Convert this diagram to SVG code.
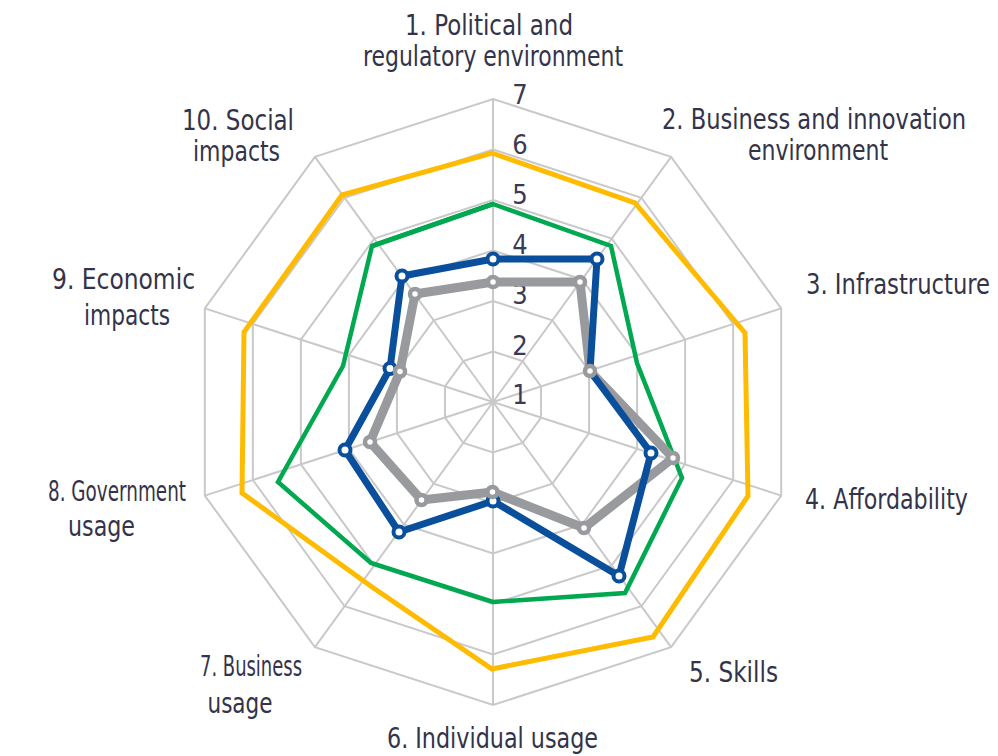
<svg xmlns="http://www.w3.org/2000/svg" width="998" height="756" viewBox="0 0 998 756">
<style>
.grid{fill:none;stroke:#c9c9c9;stroke-width:2}
.lbl{font-family:"Liberation Sans Narrow","DejaVu Sans Condensed","Liberation Sans",Arial,sans-serif;font-size:28px;fill:#33334a}
.num{font-family:"Liberation Sans Narrow","DejaVu Sans Condensed","Liberation Sans",Arial,sans-serif;font-size:27px;fill:#3a3a55}
.yel{fill:none;stroke:#ffbb00;stroke-width:5;stroke-linejoin:miter}
.grn{fill:none;stroke:#00a84f;stroke-width:4.5;stroke-linejoin:miter}
.gry{fill:none;stroke:#999a9d;stroke-width:9;stroke-linejoin:round}
.blu{fill:none;stroke:#0a4f9c;stroke-width:7;stroke-linejoin:round}
.bm{fill:#fff;stroke:#0a4f9c;stroke-width:4}
.gm{fill:#fff;stroke:#999a9d;stroke-width:4.5}
</style>
<rect width="998" height="756" fill="#fff"/>
<g id="grid">
<polygon class="grid" points="493,351.5 522.68,361.15 541.03,386.4 541.03,417.6 522.68,442.85 493,452.5 463.32,442.85 444.97,417.6 444.97,386.4 463.32,361.15"/>
<polygon class="grid" points="493,301 552.37,320.29 589.06,370.79 589.06,433.21 552.37,483.71 493,503 433.63,483.71 396.94,433.21 396.94,370.79 433.63,320.29"/>
<polygon class="grid" points="493,250.5 582.05,279.44 637.09,355.19 637.09,448.81 582.05,524.56 493,553.5 403.95,524.56 348.91,448.81 348.91,355.19 403.95,279.44"/>
<polygon class="grid" points="493,200 611.74,238.58 685.12,339.58 685.12,464.42 611.74,565.42 493,604 374.26,565.42 300.88,464.42 300.88,339.58 374.26,238.58"/>
<polygon class="grid" points="493,149.5 641.42,197.73 733.15,323.98 733.15,480.02 641.42,606.27 493,654.5 344.58,606.27 252.85,480.02 252.85,323.98 344.58,197.73"/>
<polygon class="grid" points="493,99 671.1,156.87 781.18,308.37 781.18,495.63 671.1,647.13 493,705 314.9,647.13 204.82,495.63 204.82,308.37 314.9,156.87"/>
<path class="grid" d="M493,402L493,99M493,402L671.1,156.87M493,402L781.18,308.37M493,402L781.18,495.63M493,402L671.1,647.13M493,402L493,705M493,402L314.9,647.13M493,402L204.82,495.63M493,402L204.82,308.37M493,402L314.9,156.87"/>
</g>
<g id="scale">
<text class="num" x="520" y="104" text-anchor="middle">7</text>
<text class="num" x="520" y="154" text-anchor="middle">6</text>
<text class="num" x="520" y="204" text-anchor="middle">5</text>
<text class="num" x="520" y="254" text-anchor="middle">4</text>
<text class="num" x="520" y="304" text-anchor="middle">3</text>
<text class="num" x="520" y="355" text-anchor="middle">2</text>
<text class="num" x="520" y="404" text-anchor="middle">1</text>
</g>
<g id="connectors">
<polygon id="series-yellow" class="yel" points="492,153 635,203 745,333 748,496 653,637 492,669 372,587 242,493 244,332 342,195"/>
<g id="series-green">
<polygon class="grn" points="493,204 611,246 637,363 682,478 625,593 493,602 371,563 278,482 343,366 372,246"/>
<line class="grn" x1="372" y1="246" x2="493" y2="204" stroke-width="7"/>
</g>
<polygon id="series-gray-line" class="gry" points="493,282 580,282 590,371 673,458 584,528 492.5,492 421.5,500 370,442 400,371.5 415,294"/>
<polygon id="series-blue-line" class="blu" points="493,259 597,259 590,371 651,453 619,576 493,501 399,532 345,450 390,368.5 402,276"/>
<g id="series-blue-markers">
<circle class="bm" cx="493" cy="259" r="5.5"/>
<circle class="bm" cx="597" cy="259" r="5.5"/>
<circle class="bm" cx="651" cy="453" r="5.5"/>
<circle class="bm" cx="619" cy="576" r="5.5"/>
<circle class="bm" cx="493" cy="501" r="5.5"/>
<circle class="bm" cx="399" cy="532" r="5.5"/>
<circle class="bm" cx="345" cy="450" r="5.5"/>
<circle class="bm" cx="390" cy="368.5" r="5.5"/>
<circle class="bm" cx="402" cy="276" r="5.5"/>
</g>
<g id="series-gray-markers">
<circle class="gm" cx="493" cy="282" r="5"/>
<circle class="gm" cx="580" cy="282" r="5"/>
<circle class="gm" cx="590" cy="371" r="5"/>
<circle class="gm" cx="673" cy="458" r="5"/>
<circle class="gm" cx="584" cy="528" r="5"/>
<circle class="gm" cx="492.5" cy="492" r="5"/>
<circle class="gm" cx="421.5" cy="500" r="5"/>
<circle class="gm" cx="370" cy="442" r="5"/>
<circle class="gm" cx="400" cy="371.5" r="5"/>
<circle class="gm" cx="415" cy="294" r="5"/>
</g>
</g>
<g id="axis1"><text class="lbl" x="489" y="35" text-anchor="middle" textLength="168" lengthAdjust="spacingAndGlyphs">1. Political and</text><text class="lbl" x="493" y="66" text-anchor="middle" textLength="260" lengthAdjust="spacingAndGlyphs">regulatory environment</text></g>
<g id="axis2"><text class="lbl" x="814" y="129" text-anchor="middle" textLength="304" lengthAdjust="spacingAndGlyphs">2. Business and innovation</text><text class="lbl" x="818" y="160" text-anchor="middle" textLength="140" lengthAdjust="spacingAndGlyphs">environment</text></g>
<g id="axis3"><text class="lbl" x="806" y="294" textLength="184" lengthAdjust="spacingAndGlyphs">3. Infrastructure</text></g>
<g id="axis4"><text class="lbl" x="805" y="509" textLength="163" lengthAdjust="spacingAndGlyphs">4. Affordability</text></g>
<g id="axis5"><text class="lbl" x="689" y="682" textLength="89" lengthAdjust="spacingAndGlyphs">5. Skills</text></g>
<g id="axis6"><text class="lbl" x="387" y="748" textLength="211" lengthAdjust="spacingAndGlyphs">6. Individual usage</text></g>
<g id="axis7"><text class="lbl" x="251" y="676" text-anchor="middle" textLength="102" lengthAdjust="spacingAndGlyphs">7. Business</text><text class="lbl" x="240" y="713" text-anchor="middle" textLength="65" lengthAdjust="spacingAndGlyphs">usage</text></g>
<g id="axis8"><text class="lbl" x="117" y="501" text-anchor="middle" textLength="138" lengthAdjust="spacingAndGlyphs">8. Government</text><text class="lbl" x="101.5" y="536" text-anchor="middle" textLength="67" lengthAdjust="spacingAndGlyphs">usage</text></g>
<g id="axis9"><text class="lbl" x="123.5" y="289" text-anchor="middle" textLength="143" lengthAdjust="spacingAndGlyphs">9. Economic</text><text class="lbl" x="127" y="325" text-anchor="middle" textLength="86" lengthAdjust="spacingAndGlyphs">impacts</text></g>
<g id="axis10"><text class="lbl" x="238" y="130" text-anchor="middle" textLength="112" lengthAdjust="spacingAndGlyphs">10. Social</text><text class="lbl" x="236.5" y="161" text-anchor="middle" textLength="87" lengthAdjust="spacingAndGlyphs">impacts</text></g>
</svg>
